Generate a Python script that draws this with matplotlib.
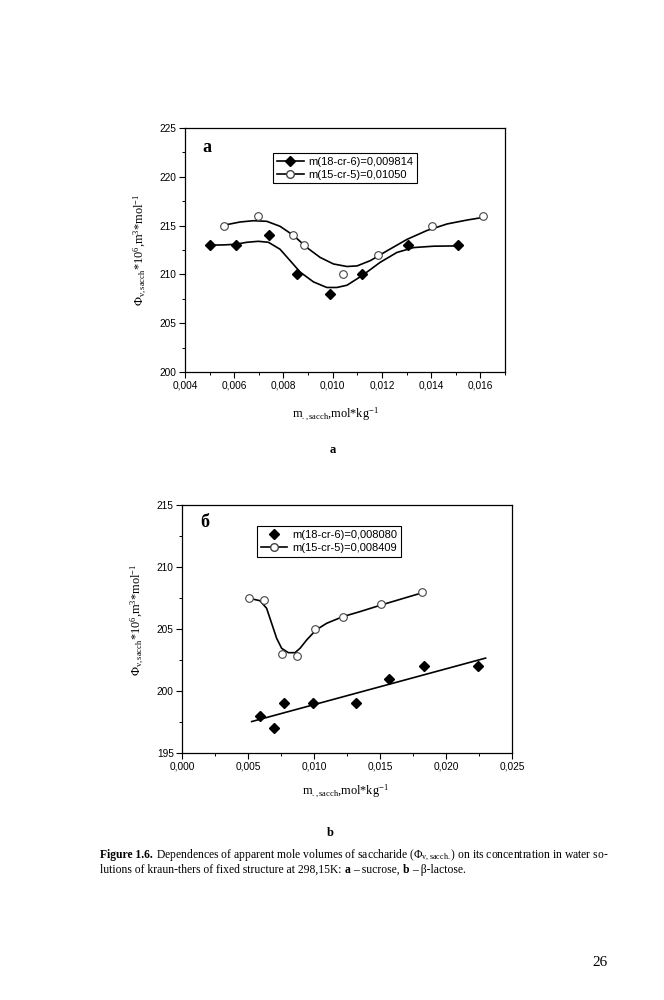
import matplotlib
matplotlib.use('Agg')
import matplotlib.pyplot as plt
import numpy as np
from matplotlib.lines import Line2D
from matplotlib.ticker import MultipleLocator, FuncFormatter

plt.rcParams['font.family'] = ['Liberation Sans', 'DejaVu Sans']
plt.rcParams['mathtext.fontset'] = 'custom'
plt.rcParams['mathtext.rm'] = 'Liberation Serif'
plt.rcParams['mathtext.it'] = 'Liberation Serif:italic'
plt.rcParams['mathtext.bf'] = 'Liberation Serif:bold'

SERIF = ['Liberation Serif', 'DejaVu Serif']

# ---- panel a : sucrose
a_x18 = [0.0050, 0.00607, 0.00743, 0.00857, 0.00991, 0.01121, 0.01307, 0.01509]
a_y18 = [213, 213, 214, 210, 208, 210, 213, 213]
a_x15 = [0.0056, 0.00696, 0.00839, 0.00885, 0.0104, 0.01186, 0.01405, 0.01611]
a_y15 = [215, 216, 214, 213, 210, 212, 215, 216]

# smooth fit curves
a_fit18_x = [0.00499, 0.00556, 0.00607, 0.00651, 0.00698, 0.00739, 0.00786, 0.00827,
             0.00868, 0.00922, 0.00976, 0.01017, 0.01058, 0.01121, 0.01193, 0.01261,
             0.01329, 0.0141, 0.01509]
a_fit18_y = [213.0, 213.02, 213.09, 213.29, 213.39, 213.29, 212.58, 211.41,
             210.23, 209.23, 208.66, 208.66, 208.89, 209.90, 211.24, 212.25,
             212.75, 212.89, 212.92]
a_fit15_x = [0.0057, 0.00624, 0.00678, 0.00732, 0.00786, 0.00841, 0.00895, 0.00949,
             0.01003, 0.01058, 0.01099, 0.01153, 0.01221, 0.01302, 0.01383, 0.01465,
             0.01546, 0.01611]
a_fit15_y = [215.1, 215.37, 215.50, 215.44, 214.93, 213.99, 212.75, 211.74,
             211.07, 210.81, 210.87, 211.41, 212.42, 213.59, 214.50, 215.17,
             215.57, 215.84]

# ---- panel b : beta-lactose
b_x18 = [0.0059, 0.0070, 0.0077, 0.0099, 0.0132, 0.0157, 0.0183, 0.0224]
b_y18 = [198, 197, 199, 199, 199, 201, 202, 202]
b_x15 = [0.0051, 0.0062, 0.0076, 0.0087, 0.0101, 0.0122, 0.0151, 0.0182]
b_y15 = [207.5, 207.3, 203.0, 202.8, 205.0, 206.0, 207.0, 208.0]
b_fit_span = [0.00528, 0.0230]

b_fit15_x = [0.00508, 0.00591, 0.00641, 0.00679, 0.00717, 0.00755, 0.00806, 0.00856,
             0.00894, 0.00944, 0.01015, 0.01096, 0.01217, 0.01348, 0.0151, 0.01652,
             0.01823]
b_fit15_y = [207.48, 207.28, 206.67, 205.46, 204.25, 203.44, 203.09, 203.09,
             203.44, 204.11, 204.92, 205.46, 205.99, 206.40, 206.94, 207.39,
             207.93]

lab_a = ['m(18-cr-6)=0,009814', 'm(15-cr-5)=0,01050']
lab_b = ['m(18-cr-6)=0,008080', 'm(15-cr-5)=0,008409']

ylab = r'$\Phi_{\rm v,sacch}$*10$^{6}$,m$^{3}$*mol$^{-1}$'
xlab = r'm$_{\rm .,sacch}$,mol*kg$^{-1}$'


def comma(v, pos):
    s = '%.3f' % v if abs(v) < 1 else '%g' % v
    return s.replace('.', ',')


def style(ax, xmaj, xmin, ymaj, ymin, xfmt):
    ax.xaxis.set_major_locator(MultipleLocator(xmaj))
    ax.xaxis.set_minor_locator(MultipleLocator(xmin))
    ax.yaxis.set_major_locator(MultipleLocator(ymaj))
    ax.yaxis.set_minor_locator(MultipleLocator(ymin))
    ax.xaxis.set_major_formatter(FuncFormatter(xfmt))
    ax.yaxis.set_major_formatter(FuncFormatter(lambda v, p: '%d' % v))
    ax.tick_params(which='major', direction='out', length=4, width=0.8,
                   labelsize=7.3, pad=2)
    ax.tick_params(which='minor', direction='out', length=2, width=0.7)
    for s in ax.spines.values():
        s.set_linewidth(0.9)


fig = plt.figure(figsize=(6.64, 10), dpi=100)

# ---------------- a
ax = fig.add_axes([185/664, 1-372/1000, 320/664, 244/1000])
ax.plot(a_fit18_x, a_fit18_y, '-', color='k', lw=1.2)
ax.plot(a_fit15_x, a_fit15_y, '-', color='k', lw=1.2)
ax.plot(a_x18, a_y18, 'D', color='k', ms=5, mec='k')
ax.plot(a_x15, a_y15, 'o', color='k', mfc='white', mec='#444444', ms=5.5, mew=0.8)
ax.set_xlim(0.004, 0.017)
ax.set_ylim(200, 225)
style(ax, 0.002, 0.001, 5, 2.5, comma)
ax.set_ylabel(ylab, family=SERIF, fontsize=8.8)
ax.yaxis.set_label_coords(-0.115, 0.5)
ax.set_xlabel(xlab, family=SERIF, fontsize=8.8)
ax.xaxis.set_label_coords(0.47, -0.135)
ax.text(0.069, 0.922, 'a', transform=ax.transAxes, family=SERIF,
        fontsize=13, fontweight='bold', ha='center', va='center')
h = [Line2D([], [], color='k', lw=1.2, marker='D', ms=5),
     Line2D([], [], color='k', lw=1.2, marker='o', mfc='white', mec='#444444', ms=5.5)]
ax.legend(h, lab_a, loc='upper left', bbox_to_anchor=(0.275, 0.898),
          borderaxespad=0, fancybox=False, edgecolor='k', framealpha=1,
          fontsize=8, handlelength=2.4, borderpad=0.35, labelspacing=0.25,
          handletextpad=0.4).get_frame().set_linewidth(0.8)

# ---------------- b
bx = fig.add_axes([182/664, 1-753/1000, 330/664, 248/1000])
k, c = np.polyfit(b_x18, b_y18, 1)
bx.plot(b_fit_span, np.polyval([k, c], b_fit_span), '-', color='k', lw=1.2)
bx.plot(b_fit15_x, b_fit15_y, '-', color='k', lw=1.2)
bx.plot(b_x18, b_y18, 'D', color='k', ms=5, mec='k')
bx.plot(b_x15, b_y15, 'o', color='k', mfc='white', mec='#444444', ms=5.5, mew=0.8)
bx.set_xlim(0, 0.025)
bx.set_ylim(195, 215)
style(bx, 0.005, 0.0025, 5, 2.5, comma)
bx.set_ylabel(ylab, family=SERIF, fontsize=8.8)
bx.yaxis.set_label_coords(-0.112, 0.536)
bx.set_xlabel(xlab, family=SERIF, fontsize=8.8)
bx.xaxis.set_label_coords(0.494, -0.117)
bx.text(0.07, 0.93, 'б', transform=bx.transAxes, family=SERIF,
        fontsize=13, fontweight='bold', ha='center', va='center')
h = [Line2D([], [], color='k', lw=0, marker='D', ms=5),
     Line2D([], [], color='k', lw=1.2, marker='o', mfc='white', mec='#444444', ms=5.5)]
bx.legend(h, lab_b, loc='upper left', bbox_to_anchor=(0.227, 0.915),
          borderaxespad=0, fancybox=False, edgecolor='k', framealpha=1,
          fontsize=8, handlelength=2.4, borderpad=0.35, labelspacing=0.25,
          handletextpad=0.4).get_frame().set_linewidth(0.8)

# ---------------- page text
fig.text(333/664, 1-450/1000, 'a', family=SERIF, fontsize=9, fontweight='bold',
         ha='center', va='center')
fig.text(330/664, 1-833/1000, 'b', family=SERIF, fontsize=9, fontweight='bold',
         ha='center', va='center')
fig.text(600/664, 1-962/1000, '26', family=SERIF, fontsize=11, ha='center', va='center')

r = fig.canvas.get_renderer()
CAP = 8.35


def width(s, w):
    t = fig.text(0, 0, s, family=SERIF, fontsize=CAP, fontweight=w)
    wd = t.get_window_extent(r).width / fig.bbox.width
    t.remove()
    return wd


gap = width('x x', 'normal') - width('xx', 'normal')


def put_line(x, y, parts):
    for s, w in parts:
        t = fig.text(x, y, s, family=SERIF, fontsize=CAP, fontweight=w,
                     ha='left', va='baseline')
        x += t.get_window_extent(r).width / fig.bbox.width + gap


put_line(100/664, 1-858/1000, [
    ('Figure 1.6.', 'bold'),
    (r'Dependences of apparent mole volumes of saccharide ($\Phi_{\rm v,sacch.}$) on its concentration in water so-', 'normal')])
put_line(100/664, 1-873/1000, [
    ('lutions of kraun-thers of fixed structure at 298,15K:', 'normal'),
    ('a', 'bold'), ('– sucrose,', 'normal'), ('b', 'bold'), ('– β-lactose.', 'normal')])

fig.savefig('out.png', dpi=100)
